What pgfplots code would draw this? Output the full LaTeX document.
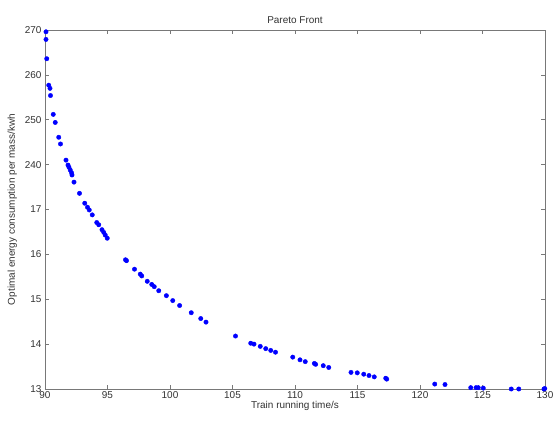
\documentclass[border=0pt]{standalone}
\usepackage{fontspec}
\setmainfont{Liberation Sans}
\usepackage{pgfplots}
\pgfplotsset{compat=1.18}

% y axis of the original is relabelled: 13..17 then 240..270, evenly spaced
\pgfplotstableread{
x y
90.08 20.96
90.08 20.79
90.14 20.36
90.30 19.77
90.40 19.70
90.44 19.54
90.66 19.12
90.82 18.94
91.10 18.61
91.24 18.46
91.68 18.10
91.84 17.99
91.92 17.94
92.02 17.88
92.12 17.82
92.16 17.77
92.32 17.61
92.76 17.36
93.18 17.14
93.40 17.05
93.54 16.99
93.78 16.88
94.14 16.71
94.30 16.66
94.56 16.55
94.70 16.49
94.82 16.43
94.98 16.36
96.44 15.88
96.52 15.86
97.16 15.67
97.62 15.56
97.74 15.52
98.18 15.40
98.54 15.33
98.74 15.28
99.10 15.19
99.71 15.08
100.22 14.97
100.77 14.86
101.70 14.70
102.46 14.57
102.88 14.49
105.24 14.18
106.46 14.02
106.72 14.00
107.22 13.95
107.66 13.90
108.06 13.86
108.44 13.82
109.82 13.71
110.40 13.65
110.82 13.61
111.55 13.57
111.65 13.55
112.26 13.52
112.70 13.48
114.48 13.37
114.98 13.36
115.50 13.33
115.92 13.30
116.34 13.27
117.26 13.24
117.34 13.22
121.18 13.11
122.00 13.10
124.06 13.03
124.48 13.03
124.66 13.03
125.06 13.02
127.30 13.00
127.90 13.00
129.92 13.00
129.98 13.01
}\pareto

\definecolor{axgray}{RGB}{120,120,120}
\definecolor{txtgray}{RGB}{50,50,50}

\begin{document}
\begin{tikzpicture}
\begin{axis}[
  scale only axis,
  width=500bp, height=359bp,
  xmin=90, xmax=130, ymin=13, ymax=21,
  xtick={90,95,...,130},
  ytick={13,14,...,21},
  yticklabels={13,14,15,16,17,240,250,260,270},
  tick align=inside,
  major tick length=4bp,
  axis line style={axgray, line width=0.8pt},
  every tick/.style={axgray, line width=0.6pt},
  tick label style={font=\fontsize{10}{12}\selectfont, text=txtgray},
  label style={font=\fontsize{10}{12}\selectfont, text=txtgray},
  title style={font=\fontsize{10}{12}\selectfont, text=txtgray, yshift=-3bp},
  title={Pareto Front},
  xlabel={Train running time/s},
  ylabel={Optimal energy consumption per mass/kwh},
  xticklabel style={yshift=1bp},
  xlabel style={yshift=4bp},
  ylabel style={yshift=1bp},
  /pgf/number format/assume math mode=true,
  clip=false,
]
\addplot[only marks, mark=*, mark size=2.2bp, color=blue, mark options={fill=blue, draw=blue}] table {\pareto};
\end{axis}
\path[use as bounding box] (-45bp,-34bp) rectangle (512bp,389bp);
\end{tikzpicture}
\end{document}
